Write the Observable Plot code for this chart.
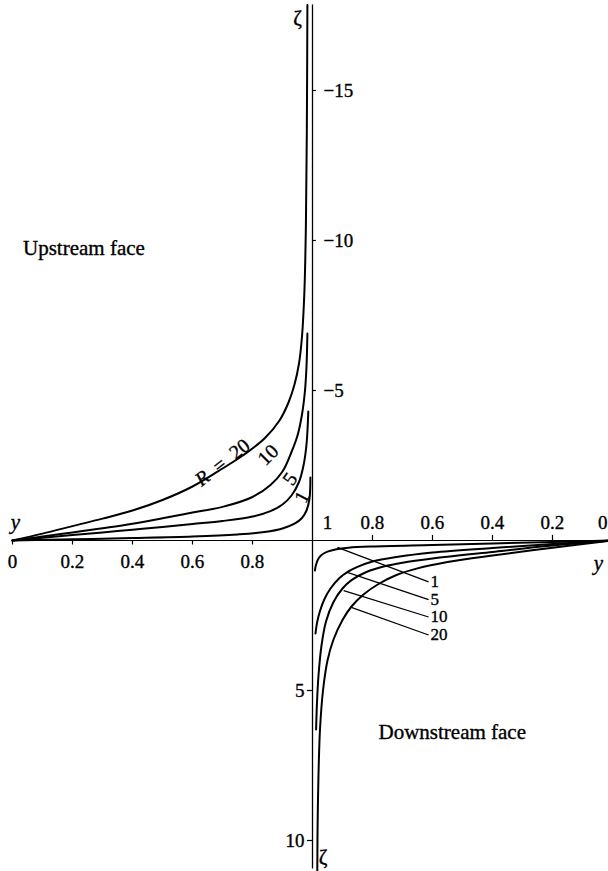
<!DOCTYPE html>
<html><head><meta charset="utf-8">
<script src="https://cdn.jsdelivr.net/npm/d3@7"></script>
<script src="https://cdn.jsdelivr.net/npm/@observablehq/plot@0.6"></script>
<style>body{margin:0;background:#fff}</style>
</head><body><div id="chart"></div>
<script>
// Upstream face: [y, zeta] for each R
const up1  = [[0,0],[0.2,-0.04],[0.4,-0.08],[0.6,-0.13],[0.75,-0.2],[0.84,-0.28],[0.9,-0.4],[0.94,-0.56],[0.965,-0.75],[0.98,-1.0],[0.99,-1.4],[0.993,-2.1]];
const up5  = [[0,0],[0.1,-0.09],[0.2,-0.18],[0.3,-0.27],[0.4,-0.36],[0.5,-0.45],[0.6,-0.55],[0.7,-0.65],[0.8,-0.8],[0.86,-0.98],[0.9,-1.2],[0.93,-1.5],[0.955,-1.95],[0.97,-2.5],[0.98,-3.2],[0.986,-4.3]];
const up10 = [[0,0],[0.1,-0.13],[0.2,-0.27],[0.3,-0.41],[0.4,-0.56],[0.5,-0.74],[0.6,-0.93],[0.7,-1.12],[0.8,-1.45],[0.86,-1.85],[0.9,-2.3],[0.93,-2.95],[0.95,-3.5],[0.965,-4.2],[0.975,-5.0],[0.98,-5.8],[0.983,-6.9]];
const up20 = [[0,0],[0.1,-0.23],[0.2,-0.48],[0.3,-0.73],[0.4,-1.0],[0.5,-1.35],[0.6,-1.8],[0.7,-2.4],[0.77,-2.85],[0.84,-3.4],[0.89,-4.0],[0.92,-4.6],[0.94,-5.2],[0.955,-5.9],[0.965,-6.8],[0.973,-8.3],[0.978,-10.5],[0.981,-13.5],[0.983,-17.85]];
// Downstream face: [y, zeta]
const down1  = [[0,0],[0.2,0.05],[0.4,0.1],[0.6,0.15],[0.8,0.2],[0.88,0.24],[0.92,0.29],[0.95,0.37],[0.97,0.48],[0.98,0.6],[0.988,0.8],[0.992,1.0]];
const down5  = [[0,0],[0.2,0.12],[0.4,0.25],[0.6,0.4],[0.72,0.55],[0.8,0.7],[0.85,0.88],[0.88,1.03],[0.91,1.25],[0.94,1.6],[0.96,1.95],[0.975,2.35],[0.985,2.75],[0.99,3.1]];
const down10 = [[0,0],[0.2,0.17],[0.4,0.38],[0.6,0.6],[0.7,0.74],[0.76,0.86],[0.82,1.05],[0.87,1.32],[0.9,1.6],[0.93,2.05],[0.955,2.7],[0.97,3.5],[0.98,4.5],[0.985,5.4],[0.988,6.3]];
const down20 = [[0,0],[0.2,0.24],[0.4,0.5],[0.55,0.72],[0.65,0.93],[0.72,1.15],[0.78,1.45],[0.83,1.8],[0.87,2.2],[0.9,2.65],[0.93,3.3],[0.95,4.0],[0.965,5.0],[0.975,6.3],[0.98,7.8],[0.983,9.5],[0.984,11]];

const Rvalues = [1, 5, 10, 20];
const upTicks = [0, 0.2, 0.4, 0.6, 0.8];
const downTicks = [1, 0.8, 0.6, 0.4, 0.2, 0];
const zetaUpTicks = [-5, -10, -15];
const zetaDownTicks = [5, 10];

// annotation anchors (y, zeta)
const upLabels = [
  {t: "R\u2002=\u200220", y: 0.7, z: -2.6, r: -38},
  {t: "10", y: 0.852, z: -2.85, r: -45},
  {t: "5", y: 0.925, z: -2.05, r: -55},
  {t: "1", y: 0.965, z: -1.45, r: -62}
];
const downLeaders = [
  {t: "1",  y1: 0.917, z1: 0.23, y2: 0.613, z2: 1.38},
  {t: "5",  y1: 0.884, z1: 1.06, y2: 0.613, z2: 1.97},
  {t: "10", y1: 0.896, z1: 1.67, y2: 0.613, z2: 2.55},
  {t: "20", y1: 0.873, z1: 2.22, y2: 0.613, z2: 3.15}
];

const upSeries = [up1, up5, up10, up20];
const downSeries = [down1, down5, down10, down20];
const upData = upSeries.flatMap((s, i) => s.map(([y, z]) => ({R: Rvalues[i], y, z})));
const downData = downSeries.flatMap((s, i) => s.map(([y, z]) => ({R: Rvalues[i], y, z})));

const font = "'Liberation Serif', 'DejaVu Serif', serif";
const fmt = d => String(d);
const ink = {fill: "black", stroke: "black", strokeWidth: 0.35};

const chart = Plot.plot({
  width: 608, height: 871, margin: 0,
  x: {domain: [-1.04, 0.98667], axis: null},
  y: {domain: [11.0333, -18], axis: null},
  style: {fontFamily: font, background: "white", color: "black"},
  marks: [
    // axes
    Plot.ruleY([0], {x1: -1, x2: 0.99, stroke: "black", strokeWidth: 1.2}),
    Plot.ruleX([0], {y1: -17.85, y2: 10.95, stroke: "black", strokeWidth: 1.3}),
    // ticks
    Plot.ruleX(upTicks, {x: d => d - 1, y1: 0, y2: 0.15, stroke: "black", strokeWidth: 1.2}),
    Plot.ruleX(downTicks.filter(d => d !== 1 && d !== 0), {x: d => 1 - d, y1: 0, y2: -0.17, stroke: "black", strokeWidth: 1.2}),
    Plot.ruleY(zetaUpTicks, {y: d => d, x1: 0, x2: 0.013, stroke: "black", strokeWidth: 1.2}),
    Plot.ruleY(zetaDownTicks, {y: d => d, x1: -0.017, x2: 0, stroke: "black", strokeWidth: 1.2}),
    // tick labels
    Plot.text(upTicks, {x: d => d - 1, y: 0, dy: 21, text: fmt, fontSize: 19, ...ink}),
    Plot.text(downTicks.filter(d => d !== 1 && d !== 0), {x: d => 1 - d, y: 0, dy: -18, text: fmt, fontSize: 19, ...ink}),
    Plot.text(downTicks.filter(d => d === 1), {x: d => 1 - d, y: 0, dx: 15, dy: -18, text: fmt, fontSize: 19, ...ink}),
    Plot.text(downTicks.filter(d => d === 0), {x: d => 1 - d, y: 0, dx: -5, dy: -18, textAnchor: "end", text: fmt, fontSize: 19, ...ink}),
    Plot.text(zetaUpTicks, {x: 0, y: d => d, dx: 11, textAnchor: "start", text: d => "\u2212" + Math.abs(d), fontSize: 19, ...ink}),
    Plot.text(zetaDownTicks, {x: 0, y: d => d, dx: -8, textAnchor: "end", text: d => String(d), fontSize: 19, ...ink}),
    // curves
    Plot.line(upData, {x: d => d.y - 1, y: "z", z: "R", curve: "catmull-rom", stroke: "black", strokeWidth: 2}),
    Plot.line(downData, {x: d => 1 - d.y, y: "z", z: "R", curve: "catmull-rom", stroke: "black", strokeWidth: 2}),
    // labels upstream
    Plot.text(upLabels, {x: d => d.y - 1, y: "z", text: "t", rotate: "r", fontSize: 20, ...ink}),
    // leaders downstream
    Plot.link(downLeaders, {x1: d => 1 - d.y1, y1: "z1", x2: d => 1 - d.y2, y2: "z2", stroke: "black", strokeWidth: 1.3}),
    Plot.text(downLeaders, {x: d => 1 - d.y2, y: "z2", dx: 2, textAnchor: "start", text: "t", fontSize: 17, ...ink}),
    // axis titles
    Plot.text(["y"], {x: -0.99, y: -0.62, text: d => d, fontStyle: "italic", fontSize: 21, ...ink}),
    Plot.text(["y"], {x: 0.953, y: 0.75, text: d => d, fontStyle: "italic", fontSize: 21, ...ink}),
    Plot.text(["\u03b6"], {x: -0.05, y: -17.4, text: d => d, fontSize: 21, ...ink}),
    Plot.text(["\u03b6"], {x: 0.035, y: 10.55, text: d => d, fontSize: 21, ...ink}),
    // face labels
    Plot.text(["Upstream face"], {x: -0.965, y: -9.73, textAnchor: "start", text: d => d, fontSize: 21, ...ink}),
    Plot.text(["Downstream face"], {x: 0.22, y: 6.4, textAnchor: "start", text: d => d, fontSize: 21, ...ink})
  ]
});
document.getElementById("chart").append(chart);
// italic R in the R = 20 label
for (const t of chart.querySelectorAll("text")) {
  if (t.textContent === "R\u2002=\u200220") {
    t.textContent = "";
    const a = document.createElementNS("http://www.w3.org/2000/svg", "tspan");
    a.setAttribute("font-style", "italic"); a.textContent = "R";
    t.append(a, document.createTextNode("\u2002=\u200220"));
  }
}
</script></body></html>
